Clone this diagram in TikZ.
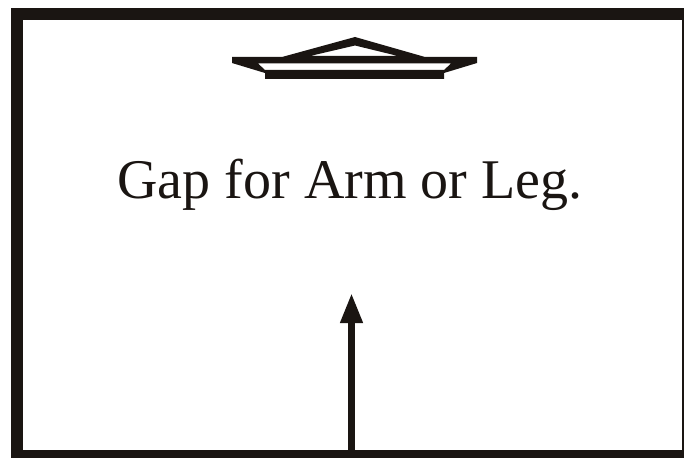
\documentclass[tikz,border=0pt]{standalone}
\usepackage{fontspec}
\setmainfont{Liberation Serif}
\usepackage{tikz}
\usetikzlibrary{arrows.meta,positioning}
\definecolor{inkBlack}{HTML}{1A1512}

\begin{document}
\begin{tikzpicture}[x=1pt, y=-1pt,
  frameline/.style={draw=inkBlack, line width=12pt},
  gaplabel/.style={font=\fontsize{56}{64}\selectfont, text=inkBlack, inner sep=0pt},
  pointer/.style={draw=inkBlack, line width=7pt, -{Triangle[length=30pt, width=21pt]}}]
% picture size as the scan: 684 x 457, y counted downward
\useasboundingbox (0,0) rectangle (684,457);
\clip (0,0) rectangle (684,457);
% ---------------- heavy frame (cut off at right and bottom) ----------------
\draw[frameline] (17,14) rectangle (688,456);
% ---------------- pediment mark at the top ----------------
% outer outline of tray + roof, with the two white holes punched out
\fill[inkBlack, even odd rule]
  (232,57) -- (282,57) -- (355,37) -- (425,57) -- (477,57) -- (477,63)
  -- (444,73) -- (444,79) -- (265,79) -- (265,73) -- (232,63) -- cycle
  (310,56) -- (355,45.5) -- (398,56) -- cycle                 % roof hole
  (258,63.5) -- (451,63.5) -- (444,70) -- (265,70) -- cycle;  % tray hole
% ---------------- caption ----------------
\node[gaplabel, anchor=base] (gap) at (350,198) {Gap for Arm or Leg.};
% ---------------- arrow up from the bottom edge ----------------
\coordinate (foot) at (351.5,452);
\coordinate (tip) at (351.5,293);
\draw[pointer] (foot) -- (tip);
\end{tikzpicture}
\end{document}
